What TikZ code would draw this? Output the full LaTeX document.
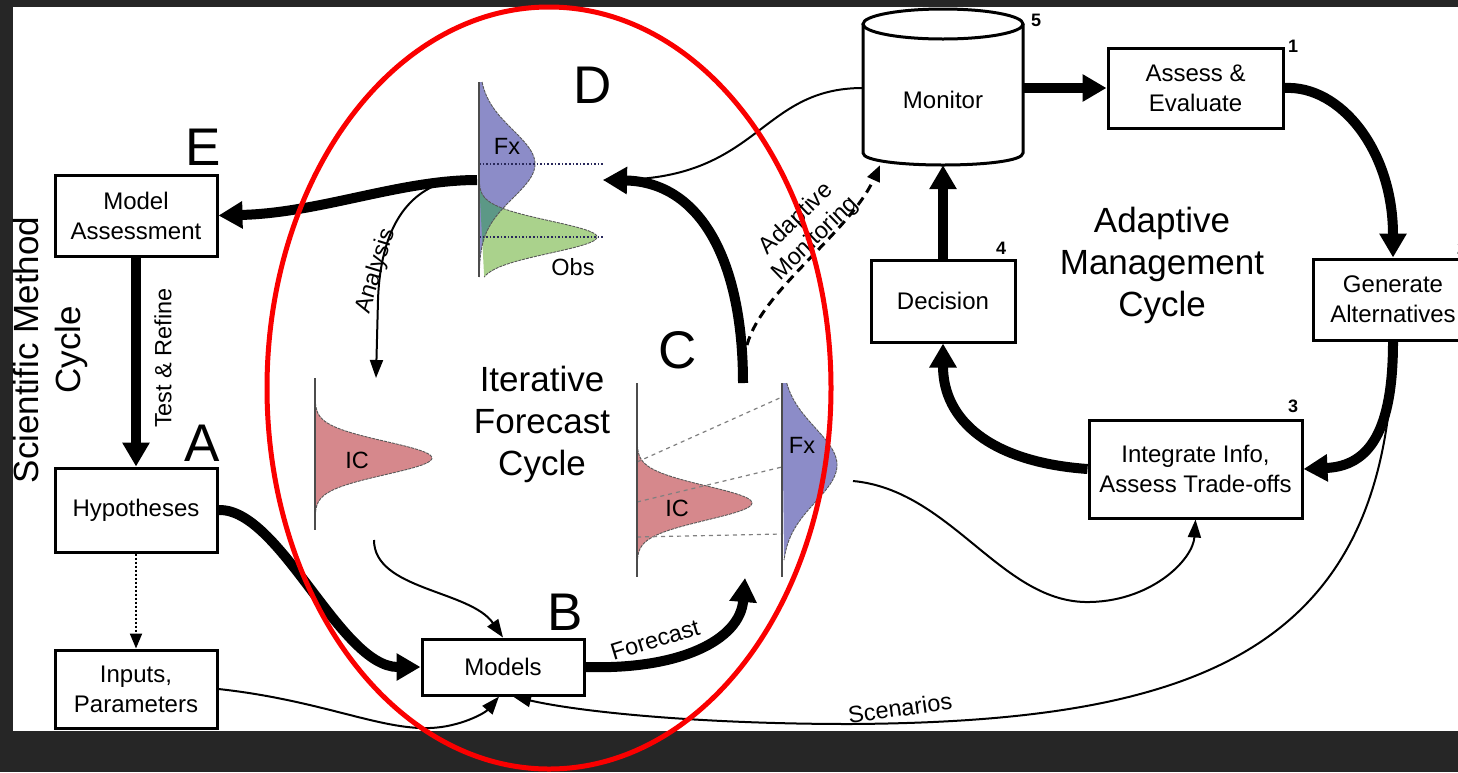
\documentclass[tikz,border=0pt]{standalone}
\usepackage{fontspec}
\setmainfont{Liberation Sans}
\usetikzlibrary{arrows.meta}

\definecolor{bgdark}{RGB}{38,38,38}
\definecolor{ringred}{RGB}{250,0,0}
\definecolor{fxblue}{RGB}{140,140,200}
\definecolor{obsgreen}{RGB}{170,210,140}
\definecolor{mixteal}{RGB}{92,152,134}
\definecolor{icpink}{RGB}{214,136,140}
\definecolor{peakblue}{RGB}{40,40,90}

\begin{document}
\begin{tikzpicture}[x=1pt, y=-1pt,
	box/.style={draw, line width=3pt, align=center, inner sep=0pt, font=\fontsize{24}{30}\selectfont},
	letter/.style={font=\fontsize{53}{53}\selectfont},
	stepnum/.style={font=\bfseries\fontsize{18}{18}\selectfont},
	cycletitle/.style={align=center, font=\fontsize{35}{42}\selectfont},
	lab/.style={font=\fontsize{23.5}{27}\selectfont},
	bigarrow/.style={line width=10pt, -{Triangle[length=24pt,width=26pt]}},
	thinarrow/.style={line width=2pt, -{Triangle[length=18pt,width=13pt]}},
	curve/.style={line width=0.9pt, black!65, dash pattern=on 3pt off 1pt},
	axisline/.style={line width=1.3pt, black!70}]
	% Khung nen
	\useasboundingbox (0,0) rectangle (1458,772);
	\fill[bgdark] (0,0) rectangle (1458,772);
	\fill[white] (13,7) rectangle (1458,731);
	
	% Cac hop cua chu trinh phuong phap khoa hoc
	\node[box, minimum width=162pt, minimum height=81pt] (massess) at (136,215.5) {Model\\Assessment};
	\node[box, minimum width=162pt, minimum height=84pt] (hyp) at (136,510) {Hypotheses};
	\node[box, minimum width=162pt, minimum height=78pt] (inputs) at (136,689) {Inputs,\\Parameters};
	\node[box, minimum width=162pt, minimum height=56pt] (models) at (503,667) {Models};
	
	% Cac hop cua chu trinh quan ly thich ung
	\node[box, minimum width=175pt, minimum height=80pt] (assess) at (1195.5,88) {Assess \&\\Evaluate};
	\node[box, minimum width=160pt, minimum height=81pt] (genalt) at (1393,299.5) {Generate\\Alternatives};
	\node[box, minimum width=213pt, minimum height=98pt] (integ) at (1195.5,469) {Integrate Info,\\Assess Trade-offs};
	\node[box, minimum width=144pt, minimum height=82pt] (decision) at (943,301) {Decision};
	
	% Hinh tru Monitor
	\draw[line width=3pt] (863,24) -- (863,153) .. controls (863,169) and (1023,169) .. (1023,153) -- (1023,24);
	\draw[line width=3pt] (943,24) ellipse [x radius=80pt, y radius=15pt];
	\node[minimum width=160pt, minimum height=130pt, font=\fontsize{24}{30}\selectfont] (monitor) at (943,100) {Monitor};
	
	% So thu tu cac buoc
	\node[stepnum] (n1) at (1293,46) {1};
	\node[stepnum] (n2) at (1462,248) {2};
	\node[stepnum] (n3) at (1293,406) {3};
	\node[stepnum] (n4) at (1001,248) {4};
	\node[stepnum] (n5) at (1036,20) {5};
	
	% Chu cai A-E
	\node[letter] (la) at (202,443) {A};
	\node[letter] (lb) at (565,612) {B};
	\node[letter] (lc) at (678,350) {C};
	\node[letter] (ld) at (593,85) {D};
	\node[letter] (le) at (203,147) {E};
	
	% Ten cac chu trinh
	\node[cycletitle, rotate=90] (scititle) at (50,350) {Scientific Method\\Cycle};
	\node[cycletitle] (itertitle) at (542,424) {Iterative\\Forecast\\Cycle};
	\node[cycletitle] (adapttitle) at (1162,265) {Adaptive\\Management\\Cycle};
	
	% Phan bo D: Fx va Obs
	\fill[obsgreen] (479,180) -- plot[variable=\t, domain=180:277, samples=70] ({479+118*exp(-((\t-237)/16)*((\t-237)/16)/2)}, \t) -- cycle;
	\fill[fxblue] (479,82) -- plot[variable=\t, domain=82:277, samples=90] ({479+56*exp(-((\t-164)/34)*((\t-164)/34)/2)}, \t) -- cycle;
	\begin{scope}
		\clip (479,82) -- plot[variable=\t, domain=82:277, samples=90] ({479+56*exp(-((\t-164)/34)*((\t-164)/34)/2)}, \t) -- cycle;
		\fill[mixteal] (479,180) -- plot[variable=\t, domain=180:277, samples=70] ({479+118*exp(-((\t-237)/16)*((\t-237)/16)/2)}, \t) -- cycle;
	\end{scope}
	\draw[curve] plot[variable=\t, domain=82:277, samples=90] ({479+56*exp(-((\t-164)/34)*((\t-164)/34)/2)}, \t);
	\draw[curve] plot[variable=\t, domain=180:277, samples=70] ({479+118*exp(-((\t-237)/16)*((\t-237)/16)/2)}, \t);
	\draw[peakblue, dotted, line width=1.6pt] (479,164) -- (603,164);
	\draw[peakblue, dotted, line width=1.6pt] (479,237) -- (603,237);
	\draw[axisline] (479,82) -- (479,277);
	\node[lab] (dfx) at (507,146) {Fx};
	\node[lab] (dobs) at (573,267) {Obs};
	
	% Phan bo IC ben trai
	\fill[icpink] (315,395) -- plot[variable=\t, domain=395:525, samples=70] ({315+117*exp(-((\t-458)/16.5)*((\t-458)/16.5)/2)}, \t) -- cycle;
	\draw[curve] plot[variable=\t, domain=395:525, samples=70] ({315+117*exp(-((\t-458)/16.5)*((\t-458)/16.5)/2)}, \t);
	\draw[axisline] (315,378) -- (315,530);
	\node[lab] (icleft) at (357,460) {IC};
	
	% Phan bo C: IC va Fx
	\fill[icpink] (637,445) -- plot[variable=\t, domain=445:560, samples=70] ({637+115*exp(-((\t-503)/17)*((\t-503)/17)/2)}, \t) -- cycle;
	\draw[curve] plot[variable=\t, domain=445:560, samples=70] ({637+115*exp(-((\t-503)/17)*((\t-503)/17)/2)}, \t);
	\fill[fxblue] (782,383) -- plot[variable=\t, domain=383:560, samples=80] ({782+55*exp(-((\t-465)/37)*((\t-465)/37)/2)}, \t) -- cycle;
	\draw[curve] plot[variable=\t, domain=383:560, samples=80] ({782+55*exp(-((\t-465)/37)*((\t-465)/37)/2)}, \t);
	\draw[black!50, line width=1.2pt, dash pattern=on 4pt off 4pt] (637,462) -- (782,397);
	\draw[black!50, line width=1.2pt, dash pattern=on 4pt off 4pt] (637,502) -- (782,467);
	\draw[black!50, line width=1.2pt, dash pattern=on 4pt off 4pt] (637,537) -- (782,534);
	\draw[axisline] (637,383) -- (637,577);
	\draw[axisline] (782,383) -- (782,577);
	\node[lab] (icright) at (677,508) {IC};
	\node[lab] (cfx) at (802,445) {Fx};
	
	% Diem noi cua cac phan bo
	\coordinate (dOut) at (477,180);
	\coordinate (dIn) at (603,180);
	\coordinate (dAna) at (445,182);
	\coordinate (icTop) at (376,378);
	\coordinate (icBot) at (374,540);
	\coordinate (cTop) at (743,383);
	\coordinate (cBot) at (745,578);
	\coordinate (cBranch) at (747,345);
	\coordinate (cFx) at (853,481);
	
	% Mui ten chu trinh phuong phap khoa hoc
	\draw[bigarrow] (dOut) .. controls (400,180) and (320,213) .. (massess.east);
	\draw[bigarrow] (massess) -- (hyp);
	\node[lab, rotate=90] (testref) at (163,358) {Test \& Refine};
	\draw[bigarrow] (hyp.east) .. controls (280,508) and (340,667) .. (models.west);
	\draw[dotted, line width=2pt, -{Triangle[length=15pt,width=12pt]}] (hyp) -- (inputs);
	\draw[thinarrow] (inputs.east) .. controls (320,700) and (380,730) .. (430,728) .. controls (460,727) and (485,713) .. ([xshift=-4pt]models.south);
	
	% Mui ten chu trinh du bao lap
	\draw[thinarrow] (dAna) .. controls (400,195) and (380,240) .. (378,300) -- (icTop);
	\node[lab, rotate=73] (analysis) at (376,271) {Analysis};
	\draw[thinarrow] (icBot) .. controls (374,590) and (470,590) .. (models.north);
	\draw[bigarrow] (models.east) .. controls (680,670) and (740,640) .. (cBot);
	\node[lab, rotate=17] (fclabel) at (655,640) {Forecast};
	\draw[bigarrow] (cTop) .. controls (743,260) and (700,182) .. (dIn);
	\draw[thinarrow] ([yshift=12pt]monitor.west) .. controls (760,88) and (760,178) .. (dIn);
	\draw[line width=3pt, dash pattern=on 9pt off 6pt, -{Triangle[length=16pt,width=13pt]}] (cBranch) .. controls (762,290) and (850,232) .. ([xshift=-63pt]monitor.south);
	\node[lab, rotate=44, align=center] (adaptmon) at (806,229) {Adaptive\\Monitoring};
	
	% Mui ten chu trinh quan ly thich ung
	\draw[bigarrow] ([yshift=12pt]monitor.east) -- (assess.west);
	\draw[bigarrow] (assess.east) .. controls (1340,85) and (1393,150) .. (genalt.north);
	\draw[bigarrow] (genalt.south) .. controls (1393,430) and (1370,466) .. (integ.east);
	\draw[bigarrow] (integ.west) .. controls (990,462) and (943,420) .. (decision.south);
	\draw[bigarrow] (decision) -- (monitor);
	\draw[thinarrow] (cFx) .. controls (950,490) and (1000,600) .. (1085,602) .. controls (1150,603) and (1193,560) .. (integ.south);
	\draw[thinarrow] (genalt.south) .. controls (1390,650) and (1200,722) .. (850,724) .. controls (700,724) and (580,712) .. ([xshift=10pt]models.south);
	\node[lab, rotate=8] (scen) at (900,708) {Scenarios};
	
	% Vong elip do
	\draw[ringred, line width=5pt] (549,388) ellipse [x radius=282pt, y radius=381pt];
\end{tikzpicture}
\end{document}
